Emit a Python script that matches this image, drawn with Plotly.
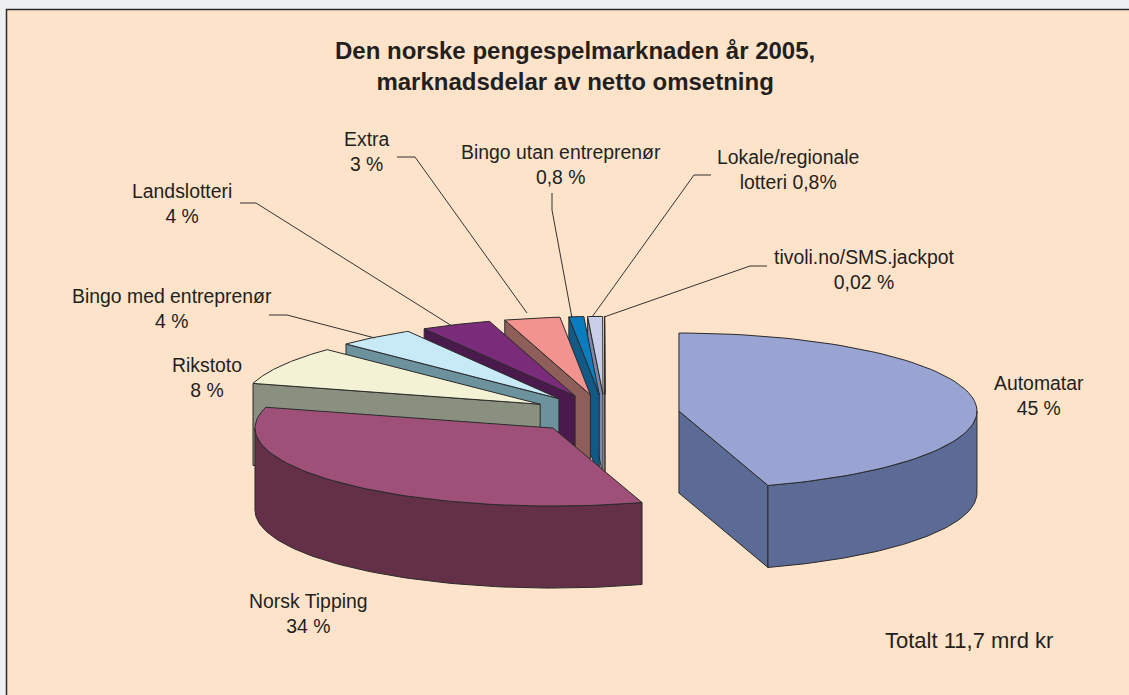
import numpy as np
import plotly.graph_objects as go

# --- data ---
categories = ["Automatar", "Norsk Tipping", "Rikstoto", "Bingo med entreprenør", "Landslotteri",
              "Extra", "Bingo utan entreprenør", "Lokale/regionale lotteri", "tivoli.no/SMS.jackpot"]
shares = [45, 34, 8, 4.2, 3.8, 3, 0.8, 0.8, 0.02]
top_colors = ["#99a4d2", "#9f5078", "#f4f2d4", "#c8eaf6", "#7a2c7a", "#f2938f", "#0a7cc0", "#c8cee8", "#f4f4f4"]
wall_colors = ["#5b6b95", "#643048", "#8a9080", "#6c939d", "#4a1a4c", "#8d5f58", "#115a85", "#7f88aa", "#c0c0c0"]
label_texts = ["Automatar<br>45 %", "Norsk Tipping<br>34 %", "Rikstoto<br>8 %", "Bingo med entreprenør<br>4 %",
               "Landslotteri<br>4 %", "Extra<br>3 %", "Bingo utan entreprenør<br>0,8 %",
               "Lokale/regionale<br>lotteri 0,8%", "tivoli.no/SMS.jackpot<br>0,02 %"]
title_text = "<b>Den norske pengespelmarknaden år 2005,<br>marknadsdelar av netto omsetning</b>"
total_text = "Totalt 11,7 mrd kr"

# --- layout of the pseudo-3D pie, in pixel-like axis units ---
W, H = 1129, 695
CX, CY = 605, 414
RX, RY = 298, 78
DEPTH = 82
EXPLODE = 0.251
EDGE = "#2a2a2a"
label_xy = [(1039, 395), (308, 613), (207, 377), (172, 308), (182, 203), (366, 151), (561, 164), (788, 169), (864, 269)]
leaders = [
    [(397, 157), (415, 157), (527, 313)],
    [(552, 193), (552, 210), (572, 318)],
    [(711, 175), (694, 175), (592, 317)],
    [(767, 266), (750, 266), (604, 317)],
    [(240, 203), (256, 203), (452, 326)],
    [(269, 315), (287, 315), (375, 338)],
]

fig = go.Figure()


def poly(xs, ys, fill, name, lw=1.0):
    fig.add_trace(go.Scatter(x=list(xs), y=list(ys), mode="lines", fill="toself", fillcolor=fill,
                             line=dict(color=EDGE, width=lw), name=name, hoverinfo="name", showlegend=False))


def ell(ax, ay, deg):
    t = np.radians(deg)
    return ax + RX * np.sin(t), ay - RY * np.cos(t)


total = sum(shares)
edges = np.concatenate([[0], np.cumsum(shares) / total * 360])

# paint from the back slice to the front slices
for i in range(len(categories) - 1, -1, -1):
    a, b = edges[i], edges[i + 1]
    mid = (a + b) / 2
    ax = CX + EXPLODE * RX * np.sin(np.radians(mid))
    ay = CY - EXPLODE * RY * np.cos(np.radians(mid))
    name = f"{categories[i]}: {shares[i]} %"
    # radial walls facing the viewer
    if a >= 180:
        px, py = ell(ax, ay, a)
        poly([ax, px, px, ax, ax], [ay, py, py + DEPTH, ay + DEPTH, ay], wall_colors[i], name)
    if b <= 180:
        px, py = ell(ax, ay, b)
        poly([ax, px, px, ax, ax], [ay, py, py + DEPTH, ay + DEPTH, ay], wall_colors[i], name)
    # outer curved wall, front half only
    lo, hi = max(a, 90), min(b, 270)
    if hi > lo:
        th = np.linspace(lo, hi, 80)
        x, y = ell(ax, ay, th)
        poly(np.r_[x, x[::-1], x[0]], np.r_[y, y[::-1] + DEPTH, y[0]], wall_colors[i], name)
    # top face
    th = np.linspace(a, b, 80)
    x, y = ell(ax, ay, th)
    poly(np.r_[ax, x, ax], np.r_[ay, y, ay], top_colors[i], name)

for pts in leaders:
    fig.add_trace(go.Scatter(x=[p[0] for p in pts], y=[p[1] for p in pts], mode="lines",
                             line=dict(color="#333333", width=1), hoverinfo="skip", showlegend=False))

font = dict(family="Liberation Sans, Arial, sans-serif", color="#231f20")
ann = [dict(x=x, y=y, text=t, showarrow=False, xanchor="center", yanchor="middle",
            font=dict(size=19.4, **font)) for t, (x, y) in zip(label_texts, label_xy)]
ann.append(dict(x=575, y=65.5, text=title_text, showarrow=False, xanchor="center", yanchor="middle",
                font=dict(size=24, **font)))
ann.append(dict(x=969, y=640, text=total_text, showarrow=False, xanchor="center", yanchor="middle",
                font=dict(size=22, **font)))

fig.update_layout(
    width=W, height=H, margin=dict(l=0, r=0, t=0, b=0),
    paper_bgcolor="#ecf0f3", plot_bgcolor="#ecf0f3", showlegend=False,
    xaxis=dict(range=[0, W], visible=False, fixedrange=True),
    yaxis=dict(range=[H, 0], visible=False, fixedrange=True),
    annotations=ann,
    shapes=[dict(type="rect", xref="x", yref="y", x0=6.5, y0=9.5, x1=W + 20, y1=H + 20, layer="below",
                 fillcolor="#fde3c9", line=dict(color="#2a2a2a", width=1.5))],
)
fig.write_html("out.html", config=dict(displayModeBar=False),
               post_script="document.body.style.margin='0';document.body.style.overflow='hidden';")
